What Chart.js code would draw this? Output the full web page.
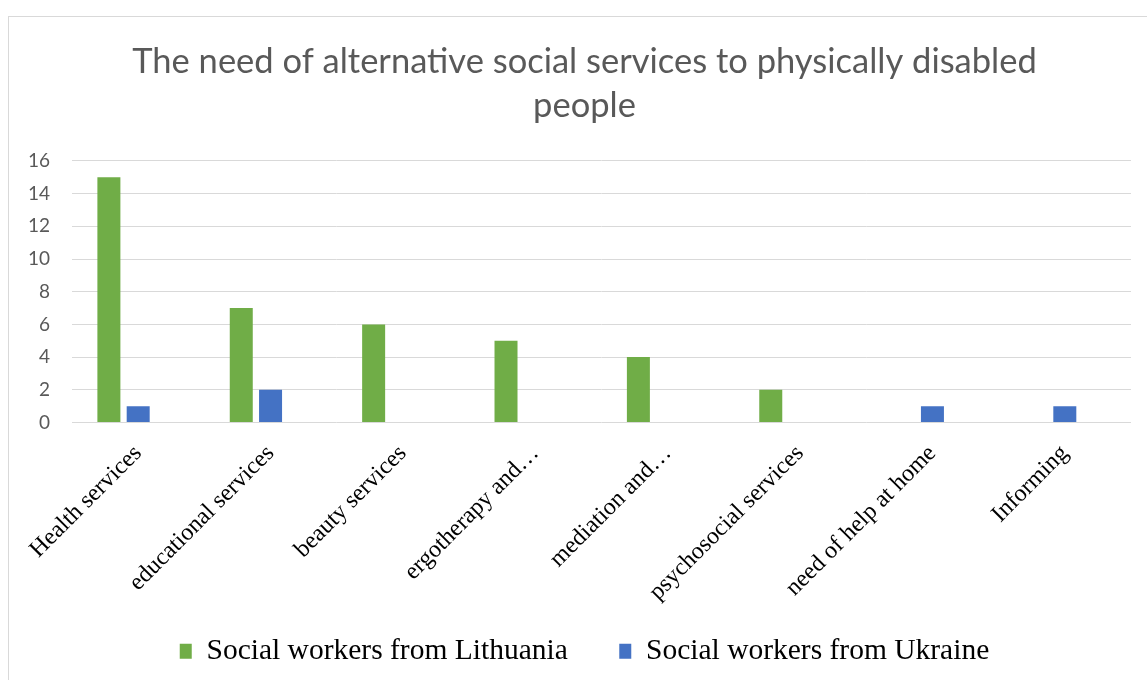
<!DOCTYPE html>
<html>
<head>
<meta charset="utf-8">
<script src="https://cdn.jsdelivr.net/npm/chart.js@4.4.1/dist/chart.umd.min.js"></script>
<style>
  body { margin: 0; background: #fff; }
  #wrap { position: relative; width: 1147px; height: 680px; overflow: hidden; }
  #frame { position: absolute; left: 8px; top: 16px; width: 1200px; height: 700px; border: 1px solid #d9d9d9; }
  #myChart { position: absolute; left: 0; top: 0; }
</style>
</head>
<body>
<div id="wrap">
  <div id="frame"></div>
  <canvas id="myChart" width="1169" height="680"></canvas>
</div>
<script>
const categories = [
  'Health services',
  'educational services',
  'beauty services',
  'ergotherapy and…',
  'mediation and…',
  'psychosocial services',
  'need of help at home',
  'Informing',
]
const lithuania = [15, 7, 6, 5, 4, 2, null, null]
const ukraine = [1, 2, null, null, null, null, 1, 1]
// third slot in each group is left empty (no data)
const emptySeries = [null, null, null, null, null, null, null, null]
const yTicks = [0, 2, 4, 6, 8, 10, 12, 14, 16]

const data = {
  labels: categories,
  datasets: [
    {
      label: 'Social workers from Lithuania',
      data: lithuania,
      backgroundColor: '#70AD47',
    },
    {
      label: 'Social workers from Ukraine',
      data: ukraine,
      backgroundColor: '#4472C4',
    },
    {
      label: '',
      data: emptySeries,
      backgroundColor: '#A5A5A5',
    },
  ],
}

const config = {
  type: 'bar',
  data: data,
  options: {
    responsive: false,
    animation: false,
    categoryPercentage: 0.664,
    barPercentage: 0.785,
    layout: {
      padding: { left: 0, right: 0, top: 0, bottom: 4 },
    },
    plugins: {
      title: {
        display: true,
        text: ['The need of alternative social services to physically disabled', 'people'],
        color: '#595959',
        font: { family: 'Lato', size: 34.5, weight: 400, lineHeight: 1.275 },
        padding: { top: 40, bottom: 33 },
      },
      legend: {
        position: 'bottom',
        labels: {
          color: '#000',
          font: { family: 'Liberation Serif', size: 29.5 },
          boxWidth: 12,
          boxHeight: 15,
          padding: 22,
          generateLabels: function (chart) {
            const items = Chart.defaults.plugins.legend.labels.generateLabels(chart)
            // widen the gap between the two entries
            if (items.length) items[0].text += '    '
            return items
          },
          filter: function (item) {
            return item.text !== ''
          },
        },
      },
      tooltip: { enabled: false },
    },
    scales: {
      x: {
        grid: { display: false },
        border: { display: false },
        ticks: {
          color: '#000',
          font: { family: 'Liberation Serif', size: 24 },
          minRotation: 45,
          maxRotation: 45,
          autoSkip: false,
          padding: 9,
        },
        afterFit: function (scale) {
          scale.height = 192
        },
      },
      y: {
        min: 0,
        max: 16,
        afterBuildTicks: function (scale) {
          scale.ticks = yTicks.map((v) => ({ value: v }))
        },
        grid: { color: '#d9d9d9', lineWidth: 1, drawTicks: false },
        border: { display: false },
        ticks: {
          color: '#595959',
          font: { family: 'Lato', size: 19 },
          padding: 22,
        },
        afterFit: function (scale) {
          scale.width = 72
        },
      },
      // blank strip on the right so title and legend centre over the frame
      spacer: {
        type: 'linear',
        position: 'right',
        grid: { display: false },
        border: { display: false },
        ticks: { display: false },
        afterFit: function (scale) {
          scale.width = 38
        },
      },
    },
  },
}

const myChart = new Chart(document.getElementById('myChart'), config)
</script>
</body>
</html>
